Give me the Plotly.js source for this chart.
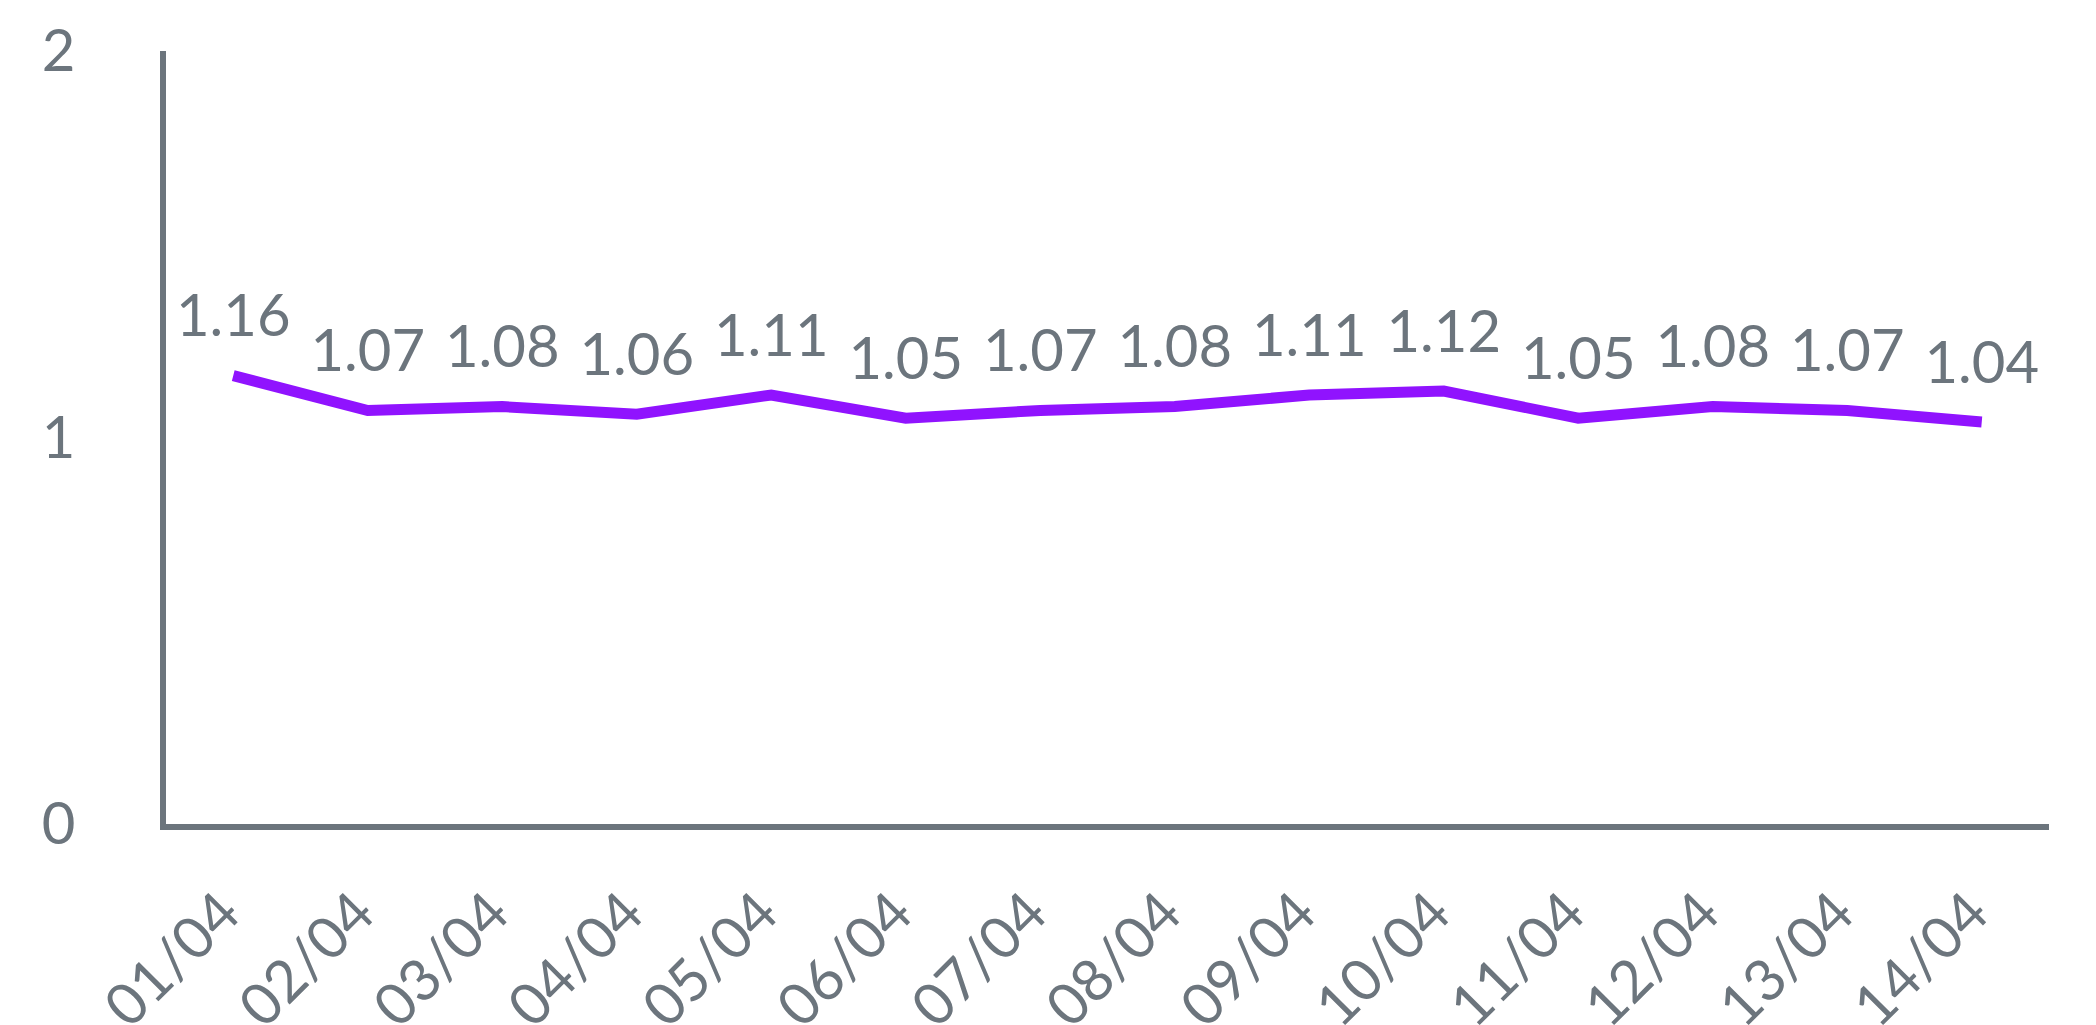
<!DOCTYPE html>
<html>
<head>
<meta charset="utf-8">
<script src="https://cdn.plot.ly/plotly-3.0.1.min.js"></script>
<style>
  html, body { margin: 0; padding: 0; background: #ffffff; }
  #chart { width: 2096px; height: 1025px; }
</style>
</head>
<body>
<div id="chart"></div>
<script>
const dates = ["01/04","02/04","03/04","04/04","05/04","06/04","07/04","08/04","09/04","10/04","11/04","12/04","13/04","14/04"];
const values = [1.16, 1.07, 1.08, 1.06, 1.11, 1.05, 1.07, 1.08, 1.11, 1.12, 1.05, 1.08, 1.07, 1.04];
const yTicks = [0, 1, 2];

const gray = "#6c757d";
const purple = "#9013fe";
const fontFam = "Lato, 'Open Sans', sans-serif";

const trace = {
  x: dates,
  y: values,
  type: "scatter",
  mode: "lines+markers+text",
  text: values.map(v => v.toFixed(2)),
  textposition: "top center",
  textfont: { family: fontFam, size: 58, color: gray },
  line: { color: purple, width: 11, shape: "linear" },
  marker: { size: 38, color: "rgba(0,0,0,0)", line: { width: 0 } },
  hoverinfo: "skip",
  cliponaxis: false
};

const layout = {
  width: 2096,
  height: 1025,
  margin: { l: 166, r: 47, t: 51, b: 201 },
  paper_bgcolor: "#ffffff",
  plot_bgcolor: "#ffffff",
  showlegend: false,
  font: { family: fontFam, size: 58, color: gray },
  xaxis: {
    type: "category",
    range: [-0.5, 13.5],
    tickvals: dates,
    ticktext: dates.map(d => d + "\u00a0"),
    showline: true,
    linecolor: gray,
    linewidth: 6,
    showgrid: false,
    zeroline: false,
    ticks: "",
    tickangle: -45,
    tickfont: { family: fontFam, size: 58, color: gray },
    ticklabelstandoff: 15
  },
  yaxis: {
    range: [0, 2],
    tickvals: yTicks,
    ticktext: yTicks.map(String),
    showline: true,
    linecolor: gray,
    linewidth: 6,
    showgrid: false,
    zeroline: false,
    ticks: "",
    tickfont: { family: fontFam, size: 58, color: gray },
    ticklabelstandoff: 73
  }
};

Plotly.newPlot("chart", [trace], layout, { staticPlot: true, displayModeBar: false });
</script>
</body>
</html>
